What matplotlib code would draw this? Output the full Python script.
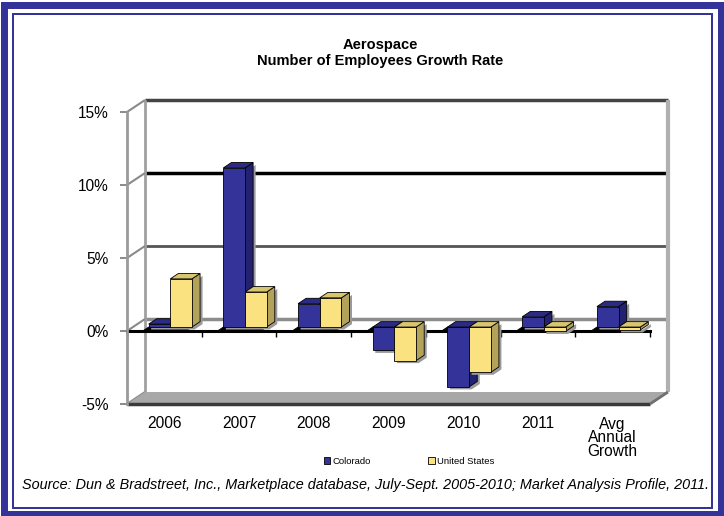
import matplotlib
matplotlib.use('Agg')
import matplotlib.pyplot as plt
from matplotlib.patches import Polygon, Rectangle, Patch
import numpy as np

# data (growth rate, %)
categories = ['2006', '2007', '2008', '2009', '2010', '2011', 'Avg\nAnnual\nGrowth']
colorado = [0.2, 10.9, 1.6, -1.6, -4.1, 0.7, 1.4]
united_states = [3.3, 2.4, 2.0, -2.3, -3.1, -0.3, -0.2]
yticks = [-5, 0, 5, 10, 15]
ytick_labels = ['-5%', '0%', '5%', '10%', '15%']
series_names = ['Colorado', 'United States']

plt.rcParams['font.family'] = ['Liberation Sans', 'DejaVu Sans']

W, H = 724, 516
fig = plt.figure(figsize=(W / 100, H / 100), dpi=100)
ax = fig.add_axes([127 / W, 1 - 404 / H, 523 / W, 292 / H])
n = len(categories)
ax.set_xlim(0, n)
ax.set_ylim(-5, 15)
ax.patch.set_visible(False)

# depth of the fake 3d box, in data units (about 18 px right, 12 px up)
DX = 18 * n / 523
DY = 12 * 20 / 292
k0, k1 = 0.33, 0.78   # bars sit between these depth fractions


def pt(x, y, k):
    return (x + k * DX, y + k * DY)


def face(pts, fc, ec='black', lw=0.6, z=2):
    ax.add_patch(Polygon(pts, closed=True, fc=fc, ec=ec, lw=lw, zorder=z,
                         clip_on=False, joinstyle='miter'))


def line(p, q, **kw):
    ax.plot([p[0], q[0]], [p[1], q[1]], solid_capstyle='butt', clip_on=False, **kw)


# back wall + gridlines
face([pt(0, -5, 1), pt(n, -5, 1), pt(n, 15, 1), pt(0, 15, 1)], 'white', ec='none', z=0)
grid_style = {0: ('#8c8c8c', 2.5), 5: ('#555555', 2), 10: ('black', 2.5), 15: ('#444444', 2.5)}
for y in yticks[1:]:
    c, w = grid_style[y]
    line(pt(0, y, 1), pt(n, y, 1), color=c, lw=w, zorder=1)
line(pt(0, -5, 1), pt(0, 15, 1), color='#a0a0a0', lw=2, zorder=1)
line(pt(n, -5, 1), pt(n, 15, 1), color='#b0b0b0', lw=3, zorder=1)
for y in yticks:
    line(pt(0, y, 0), pt(0, y, 1), color='#8a8a8a', lw=1.5, zorder=1)

# floor
face([pt(0, -5, 0), pt(n, -5, 0), pt(n, -5, 1), pt(0, -5, 1)], '#a8a8a8', ec='none', z=1)
line(pt(0, -5, 0), pt(n, -5, 0), color='#3a3a3a', lw=2.5, zorder=1.5)
line(pt(n, -5, 0), pt(n, -5, 1), color='#707070', lw=2, zorder=1.5)

# zero line with category ticks
ax.plot([0, n], [0, 0], color='black', lw=2.2, zorder=1.6, clip_on=False)
ax.vlines(np.arange(n + 1), -0.4, 0, color='black', lw=1, zorder=1.6, clip_on=False)

colors = {
    'Colorado': ('#333399', '#222270', '#2b2b86'),
    'United States': ('#f9e27f', '#b3a35a', '#d8c66e'),
}
left_edge = [0.21, 0.5]
width = 0.29
sx, sy = 2.5 * n / 523, -2.5 * 20 / 292   # drop shadow offset


def bar3d(x0, x1, v, fc, sc, tc):
    lo, hi = min(0, v), max(0, v)
    sil = [pt(x0, lo, k0), pt(x1, lo, k0), pt(x1, lo, k1), pt(x1, hi, k1),
           pt(x1, hi, k0), pt(x0, hi, k0)]
    face([(a + sx, b + sy) for a, b in sil], '#9a9a9a', ec='none', z=2)
    face([pt(x1, lo, k0), pt(x1, lo, k1), pt(x1, hi, k1), pt(x1, hi, k0)], sc, z=2)
    face([pt(x0, hi, k0), pt(x1, hi, k0), pt(x1, hi, k1), pt(x0, hi, k1)], tc, z=2)
    face([pt(x0, lo, k0), pt(x1, lo, k0), pt(x1, hi, k0), pt(x0, hi, k0)], fc, z=2)


for i in range(n):
    xa, xb = i + left_edge[0], i + left_edge[1] + width
    face([pt(xa, 0, 0), pt(xb, 0, 0), pt(xb, 0, k0), pt(xa, 0, k0)], 'black', ec='black', z=1.7)
    for j, vals in enumerate([colorado, united_states]):
        x0 = i + left_edge[j]
        bar3d(x0, x0 + width, vals[i], *colors[series_names[j]])

# axes, ticks, labels
for s in ['top', 'right', 'bottom']:
    ax.spines[s].set_visible(False)
ax.spines['left'].set_color('#9a9a9a')
ax.spines['left'].set_linewidth(2)
ax.set_yticks(yticks, ytick_labels)
ax.tick_params(axis='y', length=5, width=1.2, color='#777777', pad=8, labelsize=11.2)
ax.set_xticks(np.arange(n) + 0.5, categories)
ax.tick_params(axis='x', length=0, pad=9, labelsize=11.2)
for lbl in ax.get_xticklabels():
    lbl.set_linespacing(0.9)

fig.text(380 / W, 1 - 53 / H, 'Aerospace\nNumber of Employees Growth Rate',
         ha='center', va='center', fontweight='bold', fontsize=10.5, linespacing=1.2)

handles = [Patch(fc=colors[s][0], ec='black', lw=0.6, label=s) for s in series_names]
fig.legend(handles=handles, loc='center', bbox_to_anchor=(409 / W, 1 - 461 / H), ncol=2,
           frameon=False, fontsize=6.8, handlelength=0.7, handleheight=0.7,
           handletextpad=0.2, columnspacing=6.1, borderpad=0)

fig.text(22 / W, 1 - 485 / H,
         'Source: Dun & Bradstreet, Inc., Marketplace database, July-Sept. 2005-2010; '
         'Market Analysis Profile, 2011.',
         ha='left', va='center', style='italic', fontsize=10.4)

# double blue frame round the slide
fig.patches.append(Rectangle((3.5, 2), W - 7, H - 6.5, transform=None, fill=False,
                             ec='#333399', lw=7 * 0.72))
fig.patches.append(Rectangle((13, 8.5), W - 25.5, H - 22.5, transform=None, fill=False,
                             ec='#333399', lw=2 * 0.72))

fig.savefig('out.png', dpi=100)
